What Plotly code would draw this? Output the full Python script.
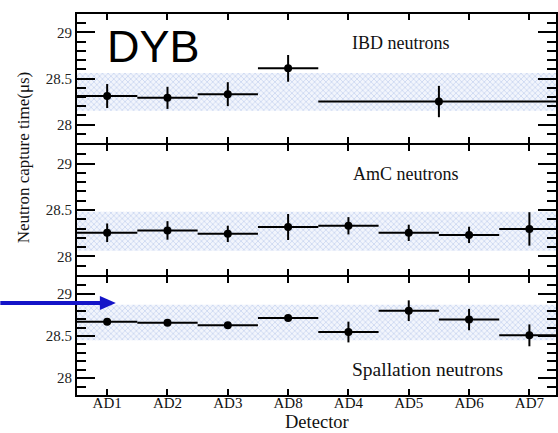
import plotly.graph_objects as go

# ---------------- data ----------------
detectors = ["AD1", "AD2", "AD3", "AD8", "AD4", "AD5", "AD6", "AD7"]

ibd_groups = [["AD1"], ["AD2"], ["AD3"], ["AD8"], ["AD4", "AD5", "AD6", "AD7"]]
ibd_values = [28.31, 28.29, 28.33, 28.61, 28.25]
ibd_errors = [0.13, 0.12, 0.13, 0.145, 0.17]

amc_values = [28.255, 28.28, 28.243, 28.317, 28.33, 28.254, 28.232, 28.296]
amc_errors = [0.10, 0.10, 0.088, 0.14, 0.093, 0.088, 0.088, 0.18]

spn_values = [28.668, 28.656, 28.628, 28.715, 28.547, 28.80, 28.695, 28.508]
spn_errors = [0.015, 0.015, 0.015, 0.015, 0.123, 0.123, 0.127, 0.13]

ibd_band = [28.15, 28.56]
amc_band = [28.06, 28.48]
spn_band = [28.45, 28.87]

y_tickvals = [28, 28.5, 29]
y_ticktext = ["28", "28.5", "29"]
y_range = [27.8, 29.2]

panel_labels = ["IBD neutrons", "AmC neutrons", "Spallation neutrons"]

# ---------------- layout geometry ----------------
W, H = 558, 433
L, R, T, B = 77, 0, 14, 38
PW, PH = W - L - R, H - T - B
LW = 2
# panel pixel extents; adjacent panels overlap by the line width so the
# shared frame lines coincide
panel_px = [(14, 143), (145, 275), (277, 395)]


def px2x(px):
    return (px - L) / PW


def px2y(py):
    return (H - B - py) / PH


SERIF = "Liberation Serif, Times New Roman, serif"
SANS = "Liberation Sans, Arial, sans-serif"

fig = go.Figure()

idx = {d: i for i, d in enumerate(detectors)}
x_lo = -0.5
x_hi = len(detectors) - 0.5


def add_panel(k, centers, halfw, vals, errs, band):
    xa = "x" if k == 1 else f"x{k}"
    ya = "y" if k == 1 else f"y{k}"
    lo, hi = band
    fig.add_trace(go.Scatter(
        x=[x_lo, x_hi, x_hi, x_lo, x_lo], y=[lo, lo, hi, hi, lo],
        mode="lines", fill="toself", line=dict(width=0, color="rgba(0,0,0,0)"),
        fillcolor="rgba(255,255,255,0)",
        fillpattern=dict(shape="x", size=4, solidity=0.3,
                         fgcolor="#8ea6de", bgcolor="#f2f5fc"),
        hoverinfo="skip", showlegend=False, xaxis=xa, yaxis=ya))
    fig.add_trace(go.Scatter(
        x=centers, y=vals, mode="markers",
        marker=dict(size=8, color="black"),
        error_y=dict(type="data", array=errs, thickness=2, width=0, color="black"),
        error_x=dict(type="data", array=halfw, thickness=2, width=0, color="black"),
        showlegend=False, xaxis=xa, yaxis=ya))


# IBD (grouped bins)
ibd_centers = [sum(idx[d] for d in g) / len(g) for g in ibd_groups]
ibd_half = [len(g) / 2 for g in ibd_groups]
add_panel(1, ibd_centers, ibd_half, ibd_values, ibd_errors, ibd_band)

det_x = list(range(len(detectors)))
half = [0.5] * len(detectors)
add_panel(2, det_x, half, amc_values, amc_errors, amc_band)
add_panel(3, det_x, half, spn_values, spn_errors, spn_band)

# right edge of visible plot area in data units (figure is cropped on the right)
x_right = x_lo + PW / 60.57

axis_common = dict(showline=True, linewidth=LW, linecolor="black", mirror="ticks",
                   showgrid=False, zeroline=False)

for k, (top, bot) in enumerate(panel_px, start=1):
    xa = "xaxis" if k == 1 else f"xaxis{k}"
    ya = "yaxis" if k == 1 else f"yaxis{k}"
    xanchor = "y" if k == 1 else f"y{k}"
    yanchor = "x" if k == 1 else f"x{k}"
    fig.layout[xa] = dict(
        axis_common, range=[x_lo, x_right], tickvals=det_x, ticktext=detectors,
        ticks="inside", ticklen=6, tickwidth=1.5, tickcolor="black",
        showticklabels=(k == 3), anchor=xanchor, ticklabelstandoff=-7,
        tickfont=dict(family=SERIF, size=15, color="#111"))
    fig.layout[ya] = dict(
        axis_common, domain=[px2y(bot), px2y(top)], range=y_range,
        tickvals=y_tickvals, ticktext=y_ticktext,
        ticks="inside", ticklen=18, tickwidth=2, tickcolor="black",
        minor=dict(dtick=0.1, tick0=28, ticks="inside", ticklen=9,
                   tickwidth=1.5, tickcolor="black"),
        anchor=yanchor, tickfont=dict(family=SERIF, size=15, color="#222"))

annotations = [
    dict(text="DYB", x=px2x(105), y=px2y(47), xanchor="left", yanchor="middle",
         font=dict(family=SANS, size=45, color="black")),
    dict(text=panel_labels[0], x=px2x(402), y=px2y(43), xanchor="center", yanchor="middle",
         font=dict(family=SERIF, size=18, color="#111")),
    dict(text=panel_labels[1], x=px2x(407), y=px2y(174), xanchor="center", yanchor="middle",
         font=dict(family=SERIF, size=18, color="#111")),
    dict(text=panel_labels[2], x=px2x(429), y=px2y(369), xanchor="center", yanchor="middle",
         font=dict(family=SERIF, size=19.5, color="#111")),
    dict(text="Detector", x=px2x(318), y=px2y(422), xanchor="center", yanchor="middle",
         font=dict(family=SERIF, size=18.5, color="#111"), borderpad=0),
    dict(text="Neutron capture time(\u03bcs)", x=px2x(23), y=px2y(157), textangle=-90,
         xanchor="center", yanchor="middle",
         font=dict(family=SERIF, size=17, color="#111")),
]
for a in annotations:
    a.update(xref="paper", yref="paper", showarrow=False)

# blue arrow (shaft + head)
ay = 303
shapes = [
    dict(type="line", xref="paper", yref="paper", x0=px2x(0), x1=px2x(102),
         y0=px2y(ay), y1=px2y(ay), line=dict(color="#1414c8", width=4)),
    dict(type="path", xref="paper", yref="paper",
         path=f"M {px2x(100)} {px2y(ay - 7)} L {px2x(116)} {px2y(ay)} L {px2x(100)} {px2y(ay + 7)} Z",
         fillcolor="#1414c8", line=dict(color="#1414c8", width=0)),
]

fig.update_layout(
    width=W, height=H, margin=dict(l=L, r=R, t=T, b=B),
    paper_bgcolor="white", plot_bgcolor="white",
    annotations=annotations, shapes=shapes, showlegend=False,
)

fig.write_html("out.html")
